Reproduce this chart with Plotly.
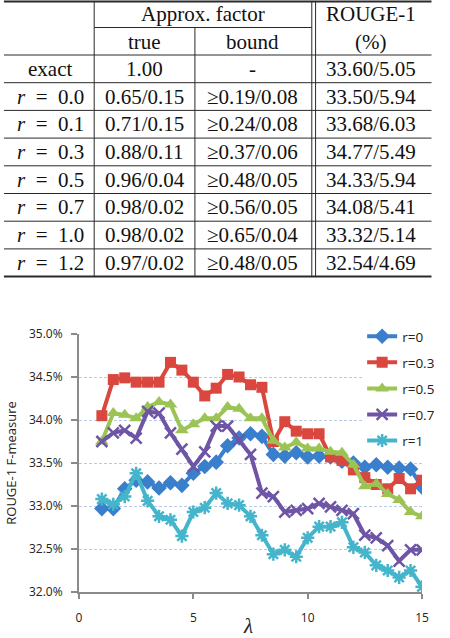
import plotly.graph_objects as go

# ---------------- data ----------------
lam = [1, 1.5, 2, 2.5, 3, 3.5, 4, 4.5, 5, 5.5, 6, 6.5, 7, 7.5, 8, 8.5, 9, 9.5,
       10, 10.5, 11, 11.5, 12, 12.5, 13, 13.5, 14, 14.5, 15]

r0 = [32.97, 32.97, 33.20, 33.30, 33.28, 33.21, 33.27, 33.24, 33.38, 33.46,
      33.51, 33.70, 33.79, 33.84, 33.81, 33.60, 33.58, 33.62, 33.57, 33.58,
      33.57, 33.52, 33.50, 33.45, 33.48, 33.45, 33.44, 33.43, 33.22]
r03 = [34.05, 34.47, 34.49, 34.44, 34.44, 34.44, 34.67, 34.58, 34.44, 34.28,
       34.37, 34.53, 34.50, 34.41, 34.38, 33.75, 33.98, 33.87, 33.84, 33.84,
       33.57, 33.53, 33.42, 33.33, 33.25, 33.20, 33.32, 33.20, 33.30]
r05 = [33.75, 34.08, 34.06, 34.02, 34.15, 34.21, 34.18, 33.88, 33.95, 34.02,
       34.02, 34.15, 34.13, 34.02, 34.02, 33.76, 33.68, 33.74, 33.67, 33.67,
       33.63, 33.62, 33.48, 33.23, 33.26, 33.14, 33.07, 32.93, 32.88]
r07 = [33.75, 33.85, 33.88, 33.79, 34.10, 34.08, 33.85, 33.66, 33.46, 33.63,
       33.93, 33.93, 33.77, 33.60, 33.15, 33.11, 32.93, 32.95, 32.97, 33.03,
       32.99, 32.95, 32.91, 32.66, 32.63, 32.54, 32.36, 32.49, 32.49]
r1 = [33.08, 33.02, 33.11, 33.38, 33.06, 32.88, 32.84, 32.65, 32.93, 32.98,
      33.15, 33.03, 33.01, 32.88, 32.66, 32.44, 32.49, 32.41, 32.63, 32.76,
      32.76, 32.81, 32.52, 32.46, 32.31, 32.25, 32.17, 32.25, 32.06]

series_names = ["r=0", "r=0.3", "r=0.5", "r=0.7", "r=1"]
series_vals = [r0, r03, r05, r07, r1]

y_ticks = [32.0, 32.5, 33.0, 33.5, 34.0, 34.5, 35.0]
y_tick_text = ["32.0%", "32.5%", "33.0%", "33.5%", "34.0%", "34.5%", "35.0%"]
x_ticks = [0, 5, 10, 15]

# table
header_top = ["Approx. factor", "ROUGE-1"]
header_sub = ["true", "bound", "(%)"]
row_labels = ["exact", "<i>r</i>\u2002=\u20020.0", "<i>r</i>\u2002=\u20020.1",
              "<i>r</i>\u2002=\u20020.3", "<i>r</i>\u2002=\u20020.5",
              "<i>r</i>\u2002=\u20020.7", "<i>r</i>\u2002=\u20021.0",
              "<i>r</i>\u2002=\u20021.2"]
true_vals = ["1.00", "0.65/0.15", "0.71/0.15", "0.88/0.11", "0.96/0.04",
             "0.98/0.02", "0.98/0.02", "0.97/0.02"]
bound_vals = ["-", "\u22650.19/0.08", "\u22650.24/0.08", "\u22650.37/0.06",
              "\u22650.48/0.05", "\u22650.56/0.05", "\u22650.65/0.04",
              "\u22650.48/0.05"]
rouge_vals = ["33.60/5.05", "33.50/5.94", "33.68/6.03", "34.77/5.49",
              "34.33/5.94", "34.08/5.41", "33.32/5.14", "32.54/4.69"]

# ---------------- styles ----------------
colors = ["#3A7FCB", "#D9473F", "#9CC455", "#6E55A6", "#45B5CC"]
markers = [
    dict(symbol="diamond", size=12),
    dict(symbol="square", size=11),
    dict(symbol="triangle-up", size=12),
    dict(symbol="x-thin", size=11),
    dict(symbol="asterisk", size=11),
]

W, H = 450, 638
L, R, T, B = 79, 10, 334, 46
PW, PH = W - L - R, H - T - B


def X(px):
    return (px - L) / PW


def Y(py):
    return (H - B - py) / PH


fig = go.Figure()
for i, (name, vals) in enumerate(zip(series_names, series_vals)):
    mk = dict(markers[i])
    if mk["symbol"] in ("x-thin", "asterisk"):
        mk["line"] = dict(width=2.5, color=colors[i])
    else:
        mk["color"] = colors[i]
        mk["line"] = dict(width=0)
    fig.add_trace(go.Scatter(
        x=lam, y=vals, name=name, mode="lines+markers",
        line=dict(color=colors[i], width=4),
        marker=mk, legendgroup=name,
    ))

# ---------------- table ----------------
tcol = "#2a2a2a"
shapes = []


def hline(py, x0, x1, w=1):
    shapes.append(dict(type="line", xref="paper", yref="paper",
                       x0=X(x0), x1=X(x1), y0=Y(py), y1=Y(py),
                       line=dict(color=tcol, width=w)))


def vline(px, y0, y1, w=1):
    shapes.append(dict(type="line", xref="paper", yref="paper",
                       x0=X(px), x1=X(px), y0=Y(y0), y1=Y(y1),
                       line=dict(color=tcol, width=w)))


row_top = 55.0
row_h = 27.7
n_rows = len(row_labels)
bottom = row_top + n_rows * row_h

hline(1.5, 0, 450, 2)
hline(27.5, 95, 324, 1)
for k in range(n_rows):
    hline(row_top + k * row_h, 0, 450, 1)
hline(bottom, 0, 450, 2)
vline(95, 1, bottom)
vline(201, 27.5, bottom)
vline(324, 1, bottom)
vline(328, 1, bottom)

annotations = []
tfont = dict(family="Liberation Serif, Times New Roman, serif", size=21, color="#111")


def txt(s, px, py, font=tfont, yanchor="middle"):
    annotations.append(dict(text=s, xref="paper", yref="paper", x=X(px), y=Y(py),
                            xanchor="center", yanchor=yanchor, showarrow=False,
                            font=font))


txt(header_top[0], 210, 14)
txt(header_top[1], 386, 14)
txt(header_sub[0], 148, 41.5)
txt(header_sub[1], 262, 41.5)
txt(header_sub[2], 386, 41.5)
col_x = [49, 148, 262, 386]
for k in range(n_rows):
    cy = row_top + (k + 0.5) * row_h
    for cx, v in zip(col_x, [row_labels[k], true_vals[k], bound_vals[k], rouge_vals[k]]):
        txt(v, cx, cy)

# x-axis title (λ)
txt("<i>λ</i>", 257, 612, dict(family="Liberation Serif, serif", size=21, color="#222"),
    yanchor="top")

# ---------------- layout ----------------
axis_col = "#8A8A8A"
fig.update_layout(
    width=W, height=H,
    margin=dict(l=L, r=R, t=T, b=B, pad=0),
    paper_bgcolor="white", plot_bgcolor="white",
    font=dict(family="Open Sans, sans-serif", size=12, color="#222"),
    shapes=shapes, annotations=annotations,
    showlegend=True,
    legend=dict(x=X(377), y=Y(321), xanchor="left", yanchor="top",
                bgcolor="white", borderwidth=0, tracegroupgap=5.5,
                font=dict(size=13.5, family="Open Sans, sans-serif"),
                itemwidth=30),
    xaxis=dict(range=[0, 15], tickvals=x_ticks, showgrid=False, zeroline=False,
               automargin=False,
               showline=True, linecolor=axis_col, linewidth=2,
               ticks="outside", ticklen=5, tickwidth=2, tickcolor=axis_col,
               tickfont=dict(size=12), ticklabelstandoff=9),
    yaxis=dict(range=[32, 35], tickvals=y_ticks, ticktext=y_tick_text,
               automargin=False,
               showgrid=True, gridcolor="#B7CBE6", griddash="3px,2px", gridwidth=1,
               zeroline=False, showline=True, linecolor=axis_col, linewidth=2,
               ticks="outside", ticklen=6, tickwidth=2, tickcolor=axis_col,
               tickfont=dict(size=12), ticklabelstandoff=6,
               title=dict(text="ROUGE-1 F-measure", standoff=9,
                          font=dict(size=13))),
)

fig.write_html("out.html")
